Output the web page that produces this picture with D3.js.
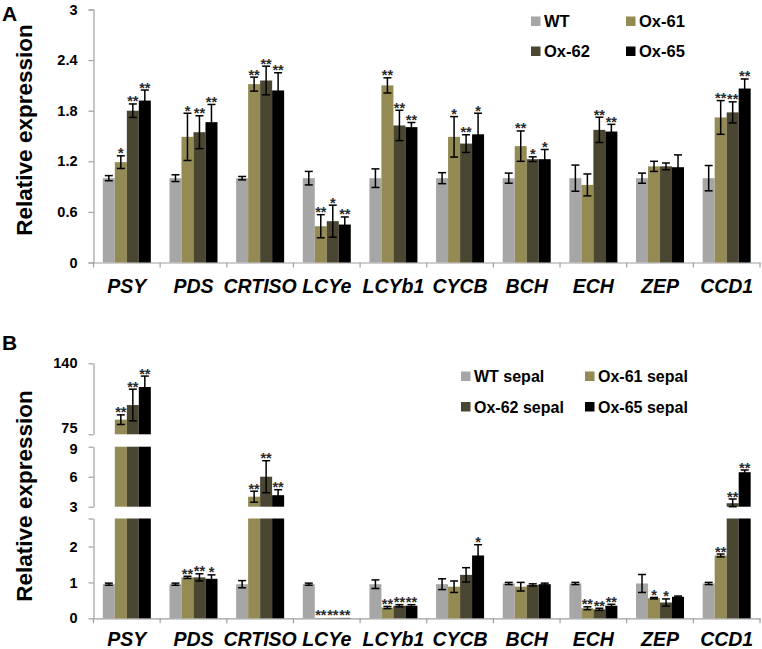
<!DOCTYPE html>
<html><head><meta charset="utf-8">
<script src="https://cdn.jsdelivr.net/npm/d3@7"></script>
<style>
html,body{margin:0;padding:0;background:#fff;}
svg{display:block;font-family:"Liberation Sans",Arial,sans-serif;}
</style></head>
<body><svg id="chart" width="762" height="649"></svg>
<script>
// ---------------- DATA ----------------
const genes = ["PSY","PDS","CRTISO","LCYe","LCYb1","CYCB","BCH","ECH","ZEP","CCD1"];
const seriesA = ["WT","Ox-61","Ox-62","Ox-65"];
const seriesB = ["WT sepal","Ox-61 sepal","Ox-62 sepal","Ox-65 sepal"];
const colors = ["#a6a6a6","#948a54","#4b4631","#000000"];

// Panel A
const wtA      = [1,1,1,1,1,1,1,1,1,1];
const wtAErr   = [0.03,0.04,0.02,0.08,0.11,0.065,0.06,0.155,0.06,0.15];
const ox61A    = [1.19,1.49,2.115,0.43,2.10,1.49,1.38,0.92,1.14,1.72];
const ox61AErr = [0.075,0.28,0.083,0.137,0.09,0.24,0.18,0.13,0.06,0.2];
const ox62A    = [1.80,1.545,2.158,0.49,1.625,1.41,1.225,1.573,1.14,1.78];
const ox62AErr = [0.08,0.195,0.17,0.19,0.18,0.105,0.028,0.15,0.04,0.125];
const ox65A    = [1.92,1.664,2.04,0.45,1.605,1.52,1.225,1.553,1.13,2.063];
const ox65AErr = [0.125,0.21,0.21,0.09,0.055,0.25,0.115,0.085,0.146,0.113];
const wtAStars   = ["","","","","","","","","",""];
const ox61AStars = ["*","*","**","**","**","*","**","","","**"];
const ox62AStars = ["**","**","**","*","**","**","*","**","","**"];
const ox65AStars = ["**","**","**","**","**","*","*","**","","**"];
const ticksA = [0,0.6,1.2,1.8,2.4,3];
const tickLabelsA = ["0","0.6","1.2","1.8","2.4","3"];

// Panel B (broken axis)
const wtB      = [0.95,0.95,0.95,0.95,0.95,0.95,0.97,0.97,0.97,0.97];
const wtBErr   = [0.03,0.03,0.1,0.03,0.12,0.15,0.03,0.03,0.25,0.03];
const ox61B    = [88.4,1.14,4.0,0.01,0.30,0.88,0.88,0.28,0.56,1.75];
const ox61BErr = [4.4,0.03,0.55,0,0.03,0.16,0.12,0.04,0.02,0.04];
const ox62B    = [101.8,1.14,6.0,0.01,0.35,1.21,0.93,0.25,0.44,3.35];
const ox62BErr = [14.5,0.1,1.6,0,0.03,0.2,0.03,0.03,0.1,0.42];
const ox65B    = [118.3,1.10,4.15,0.01,0.35,1.75,0.95,0.35,0.60,6.45];
const ox65BErr = [10,0.11,0.55,0,0.03,0.3,0.03,0.04,0.02,0.22];
const wtBStars   = ["","","","","","","","","",""];
const ox61BStars = ["**","**","**","**","**","","","**","*","**"];
const ox62BStars = ["**","**","**","**","**","","","**","*","**"];
const ox65BStars = ["**","*","**","**","**","*","","**","","**"];
// axis segments of panel B: [domain low, domain high], tick values
const segDomainsB = [[0,2.78],[3,9],[75,140]];
const segTicksB = [[0,1,2],[3,6,9],[75,140]];

// ---------------- DRAW ----------------
const svg = d3.select("#chart");
const FONT = '"Liberation Sans",Arial,sans-serif';
const axisColor = "#a0a0a0";
const x0 = 93.5, x1 = 760;
const x = d3.scaleBand().domain(genes).range([x0, x1]);
const groupW = 48;
const xs = d3.scaleBand().domain([0,1,2,3]).range([0, groupW]);

function barX(gi, si){ return x(genes[gi]) + (x.bandwidth()-groupW)/2 + xs(si); }

function drawXAxis(yAxis, labelY){
  const g = svg.append("g").attr("transform",`translate(0,${yAxis})`);
  const ax = d3.axisBottom(x).tickSize(0).tickFormat("");
  g.call(ax);
  g.select(".domain").attr("stroke",axisColor).attr("stroke-width",1.2);
  const bounds = genes.map(gn => x(gn)).concat([x1]);
  g.selectAll("line.bt").data(bounds).enter().append("line")
    .attr("x1",d=>d).attr("x2",d=>d).attr("y1",0).attr("y2",5)
    .attr("stroke",axisColor).attr("stroke-width",1.2);
  svg.append("g").selectAll("text").data(genes).enter().append("text")
    .attr("x",d=>x(d)+x.bandwidth()/2).attr("y",labelY)
    .attr("text-anchor","middle").attr("font-family",FONT)
    .attr("font-weight","bold").attr("font-style","italic").attr("font-size",19.5)
    .attr("fill","#000").text(d=>d);
}

function drawLegend(names, positions, fontSize){
  const g = svg.append("g");
  names.forEach((n,i)=>{
    const p = positions[i];
    g.append("rect").attr("x",p[0]).attr("y",p[1]-5).attr("width",9.5).attr("height",9.5).attr("fill",colors[i]);
    g.append("text").attr("x",p[0]+13).attr("y",p[1]).attr("dy","0.36em")
      .attr("font-family",FONT).attr("font-weight","bold").attr("font-size",fontSize)
      .attr("fill","#000").text(n);
  });
}

function errBar(cx, yt, yb){
  const eg = svg.append("g").attr("stroke","#000").attr("stroke-width",1.5);
  eg.append("line").attr("x1",cx).attr("x2",cx).attr("y1",yt).attr("y2",yb);
  eg.append("line").attr("x1",cx-4).attr("x2",cx+4).attr("y1",yt).attr("y2",yt);
  eg.append("line").attr("x1",cx-4).attr("x2",cx+4).attr("y1",yb).attr("y2",yb);
}
function star(cx, yt, s){
  svg.append("text").attr("x",cx).attr("y",yt+2.5).attr("text-anchor","middle")
    .attr("font-family",FONT).attr("font-weight","bold").attr("font-size",14.5)
    .attr("fill","#2a2a2a").text(s);
}

function drawBarsSimple(yScale, vals, errs, stars){
  vals.forEach((arr, si)=>{
    arr.forEach((v, gi)=>{
      const bx = barX(gi, si), bw = xs.bandwidth();
      svg.append("rect").attr("x",bx).attr("y",yScale(v)).attr("width",bw)
        .attr("height",yScale(0)-yScale(v)).attr("fill",colors[si]);
      const e = errs[si][gi], cx = bx+bw/2;
      const yt = yScale(v+e), yb = yScale(v-e);
      errBar(cx, yt, yb);
      if (stars[si][gi]) star(cx, yt, stars[si][gi]);
    });
  });
}

function styleYAxis(g){
  g.select(".domain").attr("stroke",axisColor).attr("stroke-width",1.2);
  g.selectAll(".tick line").attr("stroke",axisColor).attr("stroke-width",1.2);
  g.selectAll(".tick text").attr("font-family",FONT).attr("font-weight","bold")
    .attr("font-size",14.5).attr("fill","#000").attr("x",-16);
}

// ---------- Panel A ----------
const yA = d3.scaleLinear().domain([0,3]).range([262.5, 9.5]);
svg.append("text").attr("x",2).attr("y",21).attr("font-family",FONT).attr("font-weight","bold")
  .attr("font-size",21).text("A");
const gyA = svg.append("g").attr("transform",`translate(${x0},0)`)
  .call(d3.axisLeft(yA).tickValues(ticksA).tickSize(5).tickFormat((d,i)=>tickLabelsA[i]));
styleYAxis(gyA);
svg.append("text").attr("transform","translate(32,130) rotate(-90)").attr("text-anchor","middle")
  .attr("font-family",FONT).attr("font-weight","bold").attr("font-size",22.5).attr("fill","#000")
  .text("Relative expression");
drawXAxis(yA(0), 292.5);
drawBarsSimple(yA, [wtA,ox61A,ox62A,ox65A], [wtAErr,ox61AErr,ox62AErr,ox65AErr],
  [wtAStars,ox61AStars,ox62AStars,ox65AStars]);
drawLegend(seriesA, [[531,21.5],[626,21.5],[531,51.5],[626,51.5]], 16.5);

// ---------- Panel B ----------
const segRanges = [[618.3,518.5],[506.7,446.7],[434.3,363.3]];
const segScales = segDomainsB.map((d,i)=>d3.scaleLinear().domain(d).range(segRanges[i]));
svg.append("text").attr("x",2).attr("y",350).attr("font-family",FONT).attr("font-weight","bold")
  .attr("font-size",21).text("B");
segScales.forEach((s,i)=>{
  const tv = segTicksB[i].slice();
  const d = s.domain();
  const allT = Array.from(new Set(tv.concat([d[1]])));
  const g = svg.append("g").attr("transform",`translate(${x0},0)`)
    .call(d3.axisLeft(s).tickValues(allT).tickSize(5).tickSizeOuter(0)
      .tickFormat(v=> tv.includes(v) ? String(v) : ""));
  styleYAxis(g);
  // nudge the labels at the break so they do not collide
  g.selectAll(".tick text").attr("dy", v => (i===2 && v===d[0]) ? "-0.15em" : (i===1 && v===d[1]) ? "0.5em" : "0.32em");
});
svg.append("text").attr("transform","translate(32,496) rotate(-90)").attr("text-anchor","middle")
  .attr("font-family",FONT).attr("font-weight","bold").attr("font-size",22.5).attr("fill","#000")
  .text("Relative expression");
drawXAxis(segRanges[0][0], 645.5);

function segOf(v){
  for (let i=0;i<segDomainsB.length;i++){ if (v<=segDomainsB[i][1]) return i; }
  return segDomainsB.length-1;
}
const valsB = [wtB,ox61B,ox62B,ox65B], errsB = [wtBErr,ox61BErr,ox62BErr,ox65BErr],
      starsB = [wtBStars,ox61BStars,ox62BStars,ox65BStars];
valsB.forEach((arr, si)=>{
  arr.forEach((v, gi)=>{
    const bx = barX(gi, si), bw = xs.bandwidth(), cx = bx+bw/2;
    segScales.forEach((s, k)=>{
      const [lo, hi] = segDomainsB[k];
      if (v > lo) {
        const top = Math.min(v, hi);
        svg.append("rect").attr("x",bx).attr("y",s(top)).attr("width",bw)
          .attr("height",s(lo)-s(top)).attr("fill",colors[si]);
      }
    });
    const k = segOf(v), s = segScales[k], dom = segDomainsB[k];
    const e = errsB[si][gi];
    const yt = s(Math.min(v+e, dom[1])), yb = s(Math.max(v-e, dom[0]));
    if (e > 0) errBar(cx, yt, yb);
    if (starsB[si][gi]) star(cx, yt, starsB[si][gi]);
  });
});
drawLegend(seriesB, [[461,376.5],[585,376.5],[461,407],[585,407]], 16);
</script></body></html>
